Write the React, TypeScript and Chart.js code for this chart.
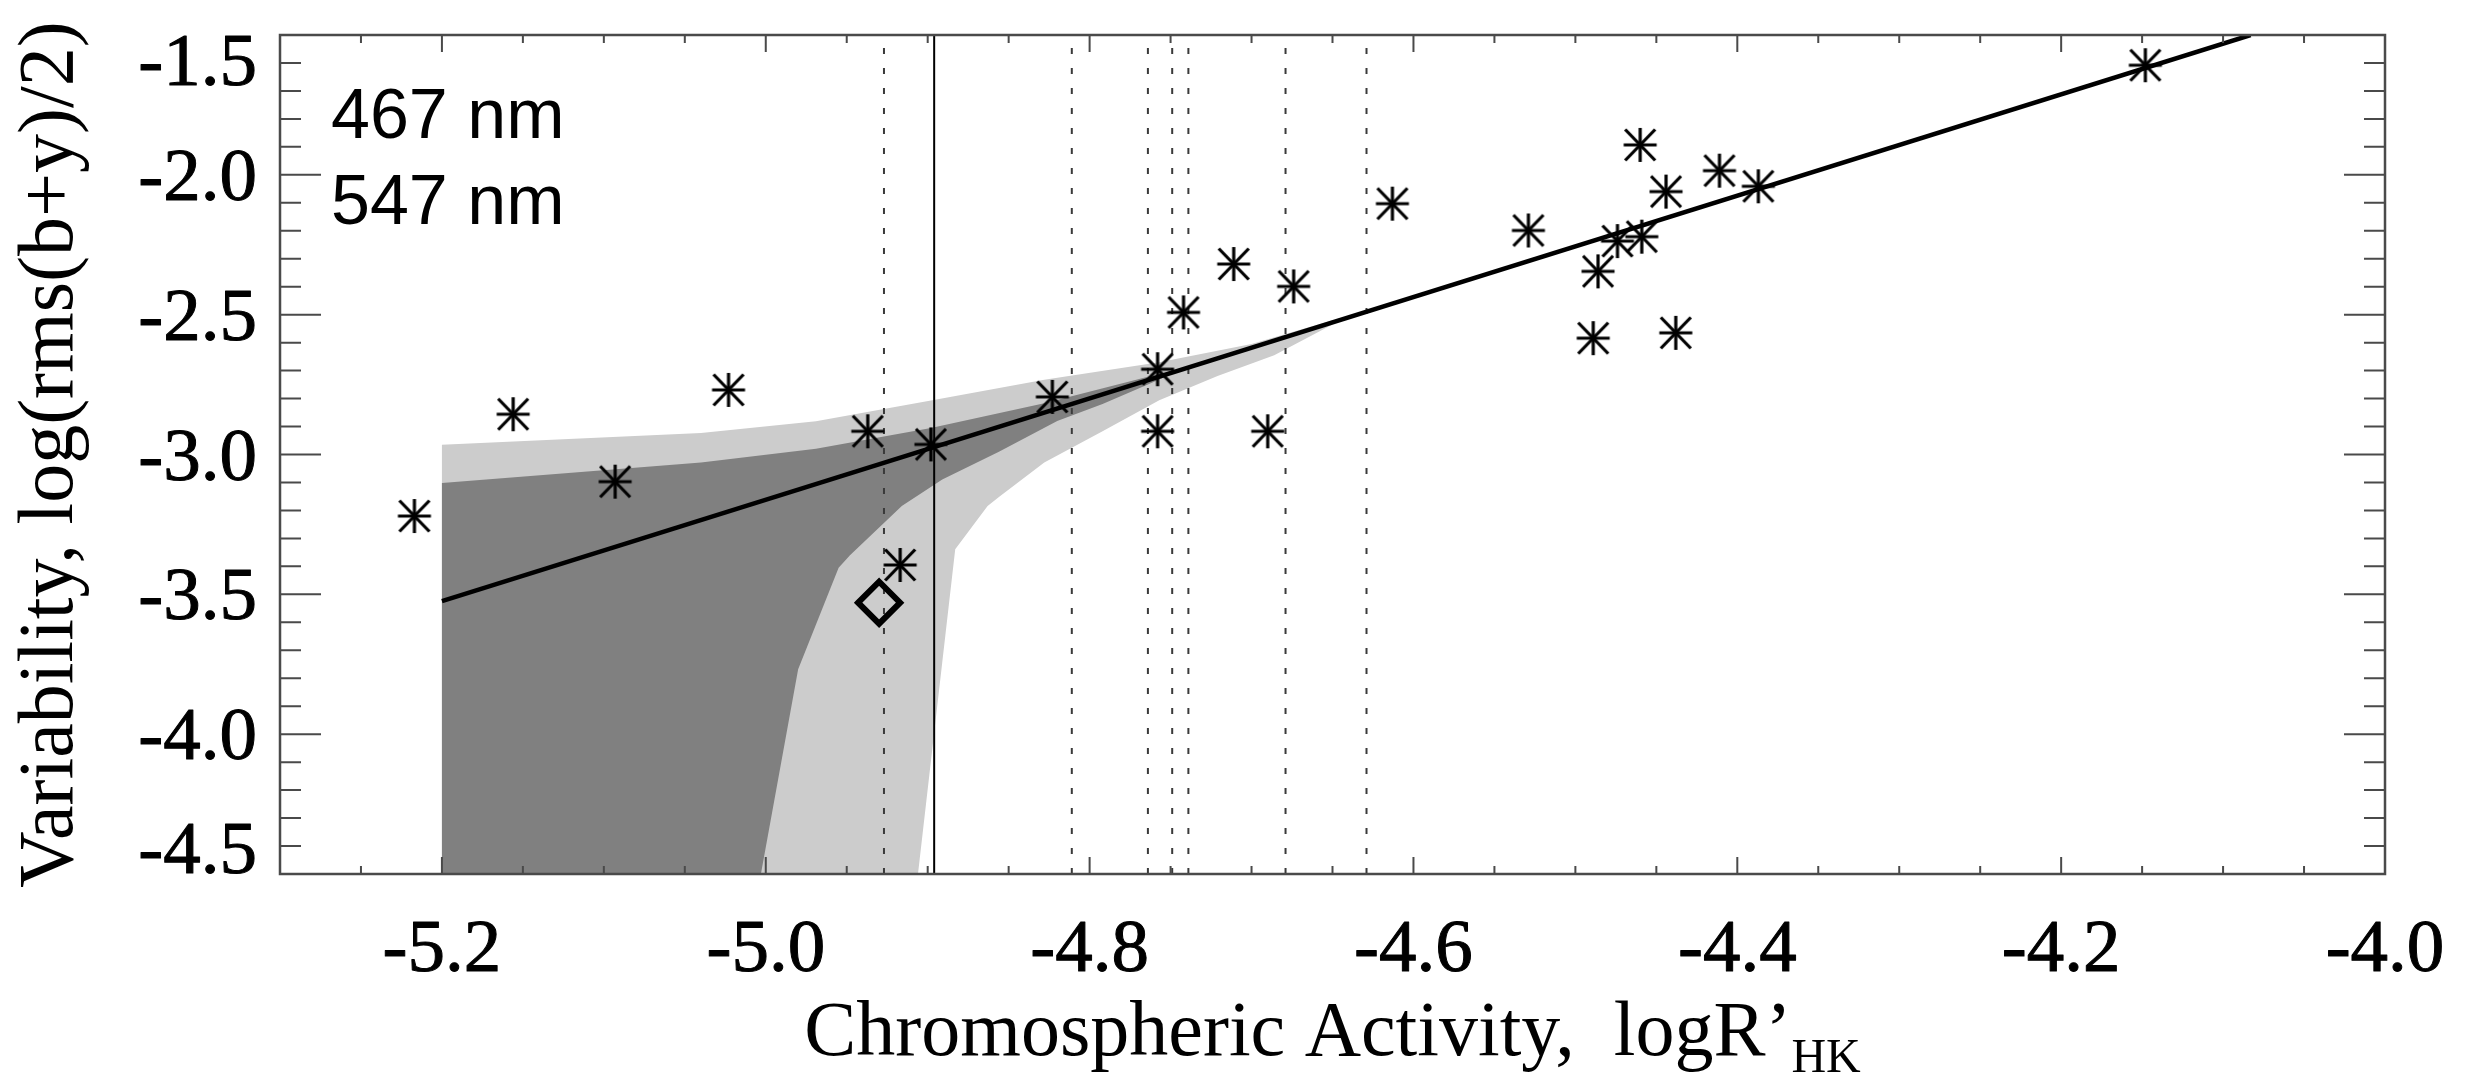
import React, { useEffect, useRef } from 'react';
import { Chart, registerables } from 'chart.js';

Chart.register(...registerables);

// ---------- axis ticks ----------
const xTickValues = [-5.2, -5.0, -4.8, -4.6, -4.4, -4.2, -4.0];
const xTickLabels = ['-5.2', '-5.0', '-4.8', '-4.6', '-4.4', '-4.2', '-4.0'];
const xMinorTicks = [-5.25, -5.15, -5.1, -5.05, -4.95, -4.9, -4.85, -4.75, -4.7, -4.65, -4.55, -4.5, -4.45, -4.35, -4.3, -4.25, -4.15, -4.1, -4.05];
const yTickValues = [-4.5, -4.0, -3.5, -3.0, -2.5, -2.0, -1.5];
const yTickLabels = ['-4.5', '-4.0', '-3.5', '-3.0', '-2.5', '-2.0', '-1.5'];
const yMinorTicks = [-4.4, -4.3, -4.2, -4.1, -3.9, -3.8, -3.7, -3.6, -3.4, -3.3, -3.2, -3.1, -2.9, -2.8, -2.7, -2.6, -2.4, -2.3, -2.2, -2.1, -1.9, -1.8, -1.7, -1.6];
const xMin = -5.3;
const xMax = -4.0;
const yMin = -4.5;
const yMax = -1.5;

// ---------- data ----------
const starX = [-5.217, -5.156, -5.093, -5.023, -4.937, -4.898, -4.917, -4.823, -4.758, -4.758, -4.742, -4.711, -4.690, -4.674, -4.613, -4.529, -4.486, -4.489, -4.474, -4.460, -4.459, -4.444, -4.438, -4.411, -4.387, -4.148];
const starY = [-3.220, -2.856, -3.097, -2.769, -2.917, -2.964, -3.395, -2.794, -2.695, -2.917, -2.492, -2.319, -2.917, -2.399, -2.103, -2.199, -2.345, -2.584, -2.237, -1.893, -2.221, -2.060, -2.565, -1.985, -2.041, -1.608];

const diamondX = [-4.930];
const diamondY = [-3.530];

const fitX = [-5.2, -4.083];
const fitY = [-3.524, -1.5];

const dottedX = [-4.927, -4.811, -4.764, -4.749, -4.739, -4.679, -4.629];
const solidX = [-4.896];

const lightBandX = [-5.2, -5.04, -4.969, -4.898, -4.828, -4.757, -4.70, -4.65, -4.65, -4.686, -4.721, -4.757, -4.792, -4.828, -4.856, -4.863, -4.883, -4.906, -5.2];
const lightBandY = [-2.965, -2.923, -2.881, -2.807, -2.733, -2.670, -2.605, -2.520, -2.535, -2.645, -2.719, -2.806, -2.917, -3.029, -3.152, -3.184, -3.339, -4.5, -4.5];

const darkBandX = [-5.2, -5.04, -4.969, -4.898, -4.828, -4.764, -4.74, -4.764, -4.792, -4.820, -4.856, -4.891, -4.916, -4.948, -4.955, -4.980, -5.003, -5.2];
const darkBandY = [-3.102, -3.029, -2.979, -2.905, -2.817, -2.722, -2.688, -2.750, -2.819, -2.880, -2.990, -3.089, -3.184, -3.360, -3.405, -3.768, -4.5, -4.5];

const legendLines = ['467 nm', '547 nm'];
const yTitle = 'Variability, log(rms(b+y)/2)';
const xTitleMain = 'Chromospheric Activity,  logR\u2019';
const xTitleSub = 'HK';

const SERIF = '"Liberation Serif", "Times New Roman", serif';
const SANS = '"Liberation Sans", Arial, sans-serif';

Chart.defaults.font.family = SERIF;

function makeStar(): HTMLCanvasElement {
  const c = document.createElement('canvas');
  c.width = 42;
  c.height = 42;
  const g = c.getContext('2d') as CanvasRenderingContext2D;
  g.strokeStyle = '#000';
  g.lineWidth = 3.2;
  const cx = 21;
  const cy = 21;
  const arms = [
    [0, 17],
    [16.5, 0],
    [15, 15.5],
    [-15, 15.5],
  ];
  for (const [dx, dy] of arms) {
    g.beginPath();
    g.moveTo(cx - dx, cy - dy);
    g.lineTo(cx + dx, cy + dy);
    g.stroke();
  }
  return c;
}

const pts = (xs: number[], ys: number[]) => xs.map((x, i) => ({ x, y: ys[i] }));

const framePlugin = {
  id: 'frameTicks',
  afterDatasetsDraw(chart: any) {
    const { ctx, chartArea, scales } = chart;
    const { left, right, top, bottom } = chartArea;
    const xs = scales.x;
    const ys = scales.y;
    ctx.save();
    ctx.strokeStyle = '#4a4a4a';
    ctx.lineWidth = 2.5;
    ctx.strokeRect(left, top, right - left, bottom - top);
    ctx.lineWidth = 2;
    const drawX = (v: number, len: number) => {
      const p = xs.getPixelForValue(v);
      ctx.beginPath();
      ctx.moveTo(p, bottom);
      ctx.lineTo(p, bottom - len);
      ctx.moveTo(p, top);
      ctx.lineTo(p, top + len);
      ctx.stroke();
    };
    const drawY = (v: number, len: number) => {
      const p = ys.getPixelForValue(v);
      ctx.beginPath();
      ctx.moveTo(left, p);
      ctx.lineTo(left + len, p);
      ctx.moveTo(right, p);
      ctx.lineTo(right - len, p);
      ctx.stroke();
    };
    xTickValues.forEach((v) => drawX(v, 17));
    xMinorTicks.forEach((v) => drawX(v, 8));
    yTickValues.forEach((v) => drawY(v, 41));
    yMinorTicks.forEach((v) => drawY(v, 21));
    ctx.restore();
  },
};

const textPlugin = {
  id: 'texts',
  afterDraw(chart: any) {
    const { ctx, chartArea, scales } = chart;
    ctx.save();
    ctx.fillStyle = '#000';
    ctx.strokeStyle = '#000';
    ctx.lineWidth = 1;
    ctx.lineJoin = 'round';
    ctx.textBaseline = 'alphabetic';

    // tick labels (serif), placed on the library's scales
    ctx.font = `75px ${SERIF}`;
    ctx.textAlign = 'center';
    xTickValues.forEach((v, i) => {
      const px = scales.x.getPixelForValue(v);
      ctx.fillText(xTickLabels[i], px, chartArea.bottom + 97);
      ctx.strokeText(xTickLabels[i], px, chartArea.bottom + 97);
    });
    ctx.textAlign = 'right';
    const last = yTickValues.length - 1;
    yTickValues.forEach((v, i) => {
      const py = scales.y.getPixelForValue(v);
      let shift = 0;
      if (i === 0) shift = -26;
      if (i === last) shift = 25;
      ctx.fillText(yTickLabels[i], chartArea.left - 23, py + shift + 25);
      ctx.strokeText(yTickLabels[i], chartArea.left - 23, py + shift + 25);
    });

    // legend labels
    ctx.textAlign = 'left';
    ctx.font = `70px ${SANS}`;
    ctx.fillText(legendLines[0], chartArea.left + 51, chartArea.top + 103);
    ctx.fillText(legendLines[1], chartArea.left + 51, chartArea.top + 188.5);

    // x title with subscript
    ctx.font = `78px ${SERIF}`;
    const w1 = ctx.measureText(xTitleMain).width;
    ctx.font = `48px ${SERIF}`;
    const w2 = ctx.measureText(xTitleSub).width;
    const cx = (chartArea.left + chartArea.right) / 2;
    const x0 = cx - (w1 + w2) / 2;
    ctx.font = `78px ${SERIF}`;
    ctx.fillText(xTitleMain, x0, chartArea.bottom + 181);
    ctx.font = `48px ${SERIF}`;
    ctx.fillText(xTitleSub, x0 + w1, chartArea.bottom + 197.5);
    ctx.restore();
  },
};

export default function App() {
  const ref = useRef<HTMLCanvasElement>(null);

  useEffect(() => {
    document.documentElement.style.overflow = 'hidden';
    document.body.style.overflow = 'hidden';
    const canvas = ref.current;
    if (!canvas) return;
    const star = makeStar();

    const lineDs = (data: any[], opts: any) => ({
      type: 'scatter',
      data,
      showLine: true,
      pointRadius: 0,
      pointHoverRadius: 0,
      ...opts,
    });

    const datasets: any[] = [
      {
        label: 'stars',
        data: pts(starX, starY),
        pointStyle: star,
        pointRadius: 17,
        pointHoverRadius: 17,
        order: 0,
      },
      {
        label: 'diamond',
        data: pts(diamondX, diamondY),
        pointStyle: 'rectRot',
        pointRadius: 21,
        pointHoverRadius: 21,
        pointBorderWidth: 6,
        borderWidth: 6,
        borderColor: '#000',
        pointBorderColor: '#000',
        backgroundColor: 'rgba(0,0,0,0)',
        pointBackgroundColor: 'rgba(0,0,0,0)',
        order: 0,
      },
      lineDs(pts(fitX, fitY), { label: 'fit', borderColor: '#000', borderWidth: 4.5, order: 1 }),
      ...dottedX.map((v) =>
        lineDs(
          [
            { x: v, y: yMin },
            { x: v, y: yMax },
          ],
          { label: 'dotted', borderColor: '#3a3a3a', borderWidth: 2, borderDash: [6, 14], order: 2 }
        )
      ),
      ...solidX.map((v) =>
        lineDs(
          [
            { x: v, y: yMin },
            { x: v, y: yMax },
          ],
          { label: 'solid', borderColor: '#000', borderWidth: 2, order: 2 }
        )
      ),
      lineDs(pts(darkBandX, darkBandY), {
        label: 'dark band',
        borderColor: 'rgba(0,0,0,0)',
        borderWidth: 1,
        backgroundColor: '#808080',
        fill: 'shape',
        order: 3,
      }),
      lineDs(pts(lightBandX, lightBandY), {
        label: 'light band',
        borderColor: 'rgba(0,0,0,0)',
        borderWidth: 1,
        backgroundColor: '#cccccc',
        fill: 'shape',
        order: 4,
      }),
    ];

    const chart = new Chart(canvas, {
      type: 'scatter',
      data: { datasets },
      plugins: [framePlugin, textPlugin],
      options: {
        responsive: false,
        animation: false,
        events: [],
        layout: { padding: { top: 14, right: 91, left: 0, bottom: 0 } },
        plugins: {
          legend: { display: false },
          tooltip: { enabled: false },
        },
        scales: {
          x: {
            type: 'linear',
            min: xMin,
            max: xMax,
            afterBuildTicks: (s: any) => {
              s.ticks = xTickValues.map((v) => ({ value: v }));
            },
            afterFit: (s: any) => {
              s.height = 205;
              s.paddingLeft = 0;
              s.paddingRight = 0;
            },
            grid: { display: false, drawTicks: false },
            border: { display: false },
            ticks: { display: false },
          },
          y: {
            type: 'linear',
            min: yMin,
            max: yMax,
            afterBuildTicks: (s: any) => {
              s.ticks = yTickValues.map((v) => ({ value: v }));
            },
            afterFit: (s: any) => {
              s.width = 272;
              s.paddingTop = 0;
              s.paddingBottom = 0;
            },
            grid: { display: false, drawTicks: false },
            border: { display: false },
            ticks: { display: false },
            title: {
              display: true,
              text: yTitle,
              color: '#000',
              padding: 0,
              font: { family: SERIF, size: 78, lineHeight: 1.12 },
            },
          },
        },
      } as any,
    } as any);

    return () => {
      chart.destroy();
    };
  }, []);

  return (
    <div style={{ width: 2468, height: 1071 }}>
      <canvas ref={ref} width={2468} height={1071} style={{ display: 'block', width: 2468, height: 1071 }} />
    </div>
  );
}
